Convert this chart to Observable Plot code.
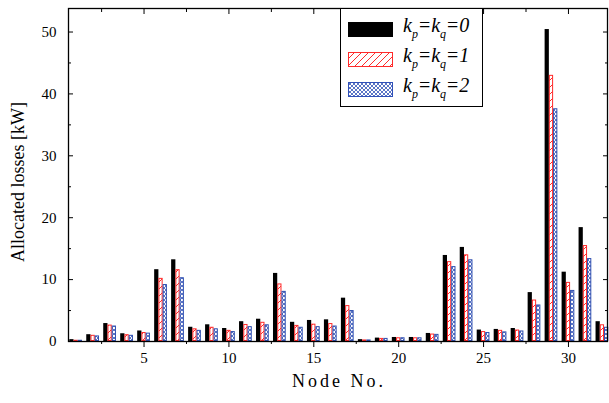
<!DOCTYPE html>
<html><head><meta charset="utf-8">
<script src="https://cdn.jsdelivr.net/npm/d3@7"></script>
<script src="https://cdn.jsdelivr.net/npm/@observablehq/plot@0.6"></script>
<style>
body{margin:0;background:#fff;}
#wrap{position:relative;width:609px;height:403px;font-family:"Liberation Serif","Times New Roman",serif;}
#wrap svg, #wrap svg text{font-family:"Liberation Serif","Times New Roman",serif !important;}
#legend{position:absolute;left:340px;top:8px;width:143px;height:99px;border:1px solid #000;background:#fff;box-sizing:border-box;}
.row{position:absolute;left:7px;height:22px;display:flex;align-items:center;}
.row svg{display:block;margin-right:10px;}
.lab{font-family:"Times New Roman","Liberation Serif",serif;font-style:italic;font-size:20px;line-height:20px;white-space:nowrap;}
.lab sub{font-size:12px;vertical-align:-6px;}
.lab span{font-style:normal;margin:0 1px;}
</style></head><body><div id="wrap"></div>
<script>
const nodes = [1,2,3,4,5,6,7,8,9,10,11,12,13,14,15,16,17,18,19,20,21,22,23,24,25,26,27,28,29,30,31,32];
const k0 = [0.3,1.1,2.9,1.25,1.7,11.6,13.2,2.3,2.7,2.1,3.2,3.6,11.0,3.1,3.4,3.5,7.0,0.3,0.55,0.65,0.65,1.3,13.9,15.2,1.85,1.95,2.1,7.9,50.4,11.2,18.4,3.2];
const k1 = [0.2,1.0,2.65,1.1,1.45,10.2,11.6,2.05,2.3,1.8,2.75,3.1,9.3,2.6,2.8,2.9,5.8,0.25,0.5,0.6,0.6,1.2,12.9,14.0,1.6,1.8,1.85,6.7,43.0,9.55,15.5,2.7];
const k2 = [0.2,0.9,2.5,1.0,1.35,9.2,10.3,1.8,2.05,1.6,2.4,2.7,8.1,2.3,2.4,2.5,5.0,0.25,0.5,0.6,0.6,1.15,12.1,13.2,1.45,1.55,1.7,5.9,37.6,8.25,13.4,2.3];
const xMajor = [5,10,15,20,25,30];
const xMinor = [2.5,7.5,12.5,17.5,22.5,27.5];
const yMajor = [0,10,20,30,40,50];
const yMinor = [5,15,25,35,45];
const seriesLabels = ["0","1","2"];

const barW = 0.25;
const mk = (vals, off) => nodes.map((n,i)=>({x1:n+off-barW/2, x2:n+off+barW/2, v:vals[i]}));
const d0 = mk(k0,-barW), d1 = mk(k1,0), d2 = mk(k2,barW);
const FONT = "Liberation Serif, Times New Roman, serif";

const plot = Plot.plot({
  width:609, height:403,
  marginLeft:68, marginRight:2, marginTop:8, marginBottom:62,
  style:{fontFamily:FONT, fontSize:"15px", color:"#000", background:"#fff"},
  x:{domain:[0.55,32.3]},
  y:{domain:[0,53.8]},
  marks:[
    Plot.rectY(d0,{x1:"x1",x2:"x2",y1:0,y2:"v",fill:"#000",inset:0}),
    Plot.rectY(d1,{x1:"x1",x2:"x2",y1:0,y2:"v",fill:"url(#hatchR)",stroke:"#ff2a2a",strokeWidth:1,inset:0.5}),
    Plot.rectY(d2,{x1:"x1",x2:"x2",y1:0,y2:"v",fill:"url(#hatchB)",stroke:"#2f4fb0",strokeWidth:1,inset:0.5}),
    Plot.axisX({ticks:xMajor, anchor:"bottom", tickSize:6, tickPadding:5, label:null, tickFormat:d=>d}),
    Plot.axisX({ticks:xMinor, anchor:"bottom", tickSize:3, text:null, label:null}),
    Plot.axisX({ticks:xMajor, anchor:"top", tickSize:-5, text:null, label:null}),
    Plot.axisX({ticks:xMinor, anchor:"top", tickSize:-3, text:null, label:null}),
    Plot.axisY({ticks:yMajor, anchor:"left", tickSize:0, tickPadding:12, label:null}),
    Plot.axisY({ticks:yMajor, anchor:"left", tickSize:-5, text:null, label:null}),
    Plot.axisY({ticks:yMinor, anchor:"left", tickSize:-3, text:null, label:null}),
    Plot.axisY({ticks:yMajor, anchor:"right", tickSize:-5, text:null, label:null}),
    Plot.axisY({ticks:yMinor, anchor:"right", tickSize:-3, text:null, label:null}),
    Plot.frame({strokeWidth:1.3}),
    Plot.text(["Allocated losses [kW]"],{frameAnchor:"left", textAnchor:"middle", dx:-50, dy:7, rotate:-90, fontSize:18}),
    Plot.text(["Node No."],{frameAnchor:"bottom", textAnchor:"middle", dy:45, dx:1, fontSize:18})
  ]
});

const svg = d3.select(plot);
svg.selectAll("text").filter(function(){return this.textContent==="Node No.";}).attr("letter-spacing","3px");
const defs = svg.insert("defs",":first-child");
const pr = defs.append("pattern").attr("id","hatchR").attr("patternUnits","userSpaceOnUse").attr("width",7).attr("height",7);
pr.append("rect").attr("width",7).attr("height",7).attr("fill","#fff");
pr.append("path").attr("d","M0,7L7,0M-1,1L1,-1M6,8L8,6").attr("stroke","#ff2a2a").attr("stroke-width",1);
const pb = defs.append("pattern").attr("id","hatchB").attr("patternUnits","userSpaceOnUse").attr("width",4).attr("height",4);
pb.append("rect").attr("width",4).attr("height",4).attr("fill","#fff");
pb.append("path").attr("d","M0,4L4,0M-1,1L1,-1M3,5L5,3M0,0L4,4M-1,3L1,5M3,-1L5,1").attr("stroke","#3050b8").attr("stroke-width",0.8);

const wrap = document.getElementById("wrap");
wrap.appendChild(plot);

// legend
const legend = document.createElement("div");
legend.id = "legend";
const sw = [
  `<svg width="45" height="15"><rect x="0.5" y="0.5" width="44" height="14" fill="#000" stroke="#000"/></svg>`,
  `<svg width="45" height="15"><rect x="0.5" y="0.5" width="44" height="14" fill="url(#hatchR)" stroke="#ff2a2a"/></svg>`,
  `<svg width="45" height="15"><rect x="0.5" y="0.5" width="44" height="14" fill="url(#hatchB)" stroke="#3050b8"/></svg>`
];
const tops = [9,39,69];
seriesLabels.forEach((s,i)=>{
  const r = document.createElement("div");
  r.className = "row";
  r.style.top = tops[i]+"px";
  r.innerHTML = sw[i] + `<div class="lab">k<sub>p</sub><span>=</span>k<sub>q</sub><span>=</span>${s}</div>`;
  legend.appendChild(r);
});
wrap.appendChild(legend);
</script></body></html>
